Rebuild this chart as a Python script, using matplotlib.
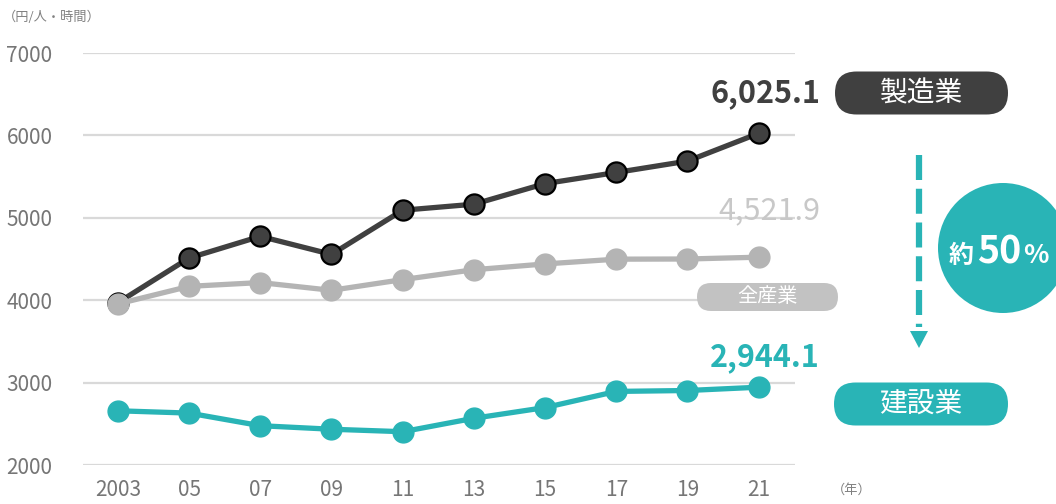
import matplotlib
matplotlib.use("Agg")
import matplotlib.pyplot as plt
from matplotlib.patches import FancyBboxPatch, Circle, Polygon

plt.rcParams['font.family'] = ['Noto Sans CJK JP', 'DejaVu Sans']

years = ["2003", "05", "07", "09", "11", "13", "15", "17", "19", "21"]
manufacturing = [3970, 4512, 4775, 4556, 5092, 5165, 5415, 5550, 5688, 6025.1]
all_industries = [3955, 4168, 4214, 4120, 4250, 4370, 4440, 4498, 4500, 4521.9]
construction = [2658, 2630, 2477, 2434, 2404, 2567, 2697, 2893, 2904, 2944.1]
yticks = [2000, 3000, 4000, 5000, 6000, 7000]

DARK = "#404040"
GRAY = "#b4b4b4"
TEAL = "#29b4b6"
TICK = "#767676"

W, H = 1056, 504
fig = plt.figure(figsize=(W / 100, H / 100), dpi=100)
fig.patch.set_facecolor("white")

ax = fig.add_axes([83 / W, 1 - 465 / H, (795 - 83) / W, (465 - 53) / H])
x = list(range(len(years)))
ax.plot(x, manufacturing, color=DARK, lw=3.8, marker="o", ms=14.5,
        mfc=DARK, mec="black", mew=1.6, zorder=3)
ax.plot(x, all_industries, color=GRAY, lw=3.8, marker="o", ms=15,
        mfc=GRAY, mec=GRAY, zorder=4)
ax.plot(x, construction, color=TEAL, lw=3.8, marker="o", ms=15,
        mfc=TEAL, mec=TEAL, zorder=3)

ax.set_xlim(-0.49, 9.51)
ax.set_ylim(2000, 7000)
ax.set_yticks(yticks)
ax.set_yticklabels([str(v) for v in yticks])
ax.set_xticks(x)
ax.set_xticklabels(years)
ax.tick_params(axis="both", length=0, labelsize=15, colors=TICK)
ax.tick_params(axis="y", pad=22)
ax.tick_params(axis="x", pad=10)
for s in ax.spines.values():
    s.set_visible(False)
ax.yaxis.grid(True, color="#d9d9d9", lw=1.6)
ax.set_axisbelow(True)
ax.set_facecolor("none")

# value labels
ax.annotate(f"{manufacturing[-1]:,.1f}", xy=(x[-1], manufacturing[-1]),
            xytext=(820, H - 93), textcoords="figure pixels",
            ha="right", va="center", fontsize=22, fontweight="bold", color=DARK)
ax.annotate(f"{all_industries[-1]:,.1f}", xy=(x[-1], all_industries[-1]),
            xytext=(820, H - 211), textcoords="figure pixels",
            ha="right", va="center", fontsize=22, color="#c8c8c8")
ax.annotate(f"{construction[-1]:,.1f}", xy=(x[-1], construction[-1]),
            xytext=(820, H - 357), textcoords="figure pixels",
            ha="right", va="center", fontsize=22, fontweight="bold", color=TEAL)

# overlay in pixel coordinates
ov = fig.add_axes([0, 0, 1, 1])
ov.set_xlim(0, W)
ov.set_ylim(H, 0)
ov.axis("off")
ov.set_facecolor("none")

def pill(x0, x1, yc, h, color, label, fs):
    p = FancyBboxPatch((x0 + h / 2, yc), (x1 - x0) - h, 0.0001,
                       boxstyle=f"round,pad={h/2}", fc=color, ec="none")
    ov.add_patch(p)
    ov.text((x0 + x1) / 2, yc, label, ha="center", va="center",
            fontsize=fs, color="white")

pill(835, 1008, 93, 43, DARK, "製造業", 20)
pill(697, 838, 297, 28, "#c2c2c2", "全産業", 14.5)
pill(834, 1008, 404, 43, TEAL, "建設業", 20)

# dashed arrow
ov.plot([919, 919], [155, 327], color=TEAL, lw=4.5,
        dashes=(4.0, 1.4), solid_capstyle="butt", dash_capstyle="butt")
ov.add_patch(Polygon([[910, 331], [928, 331], [919, 348]], closed=True,
                     fc=TEAL, ec="none"))

# circle
ov.add_patch(Circle((1003, 248), 65, fc=TEAL, ec="none"))
ov.text(949, 263, "約", ha="left", va="baseline", fontsize=18,
        fontweight="bold", color="white")
ov.text(977, 263, "50", ha="left", va="baseline", fontsize=27,
        fontweight="bold", color="white")
ov.text(1023, 263, "%", ha="left", va="baseline", fontsize=19,
        fontweight="bold", color="white")

# unit labels
ov.text(3, 17, "（円/人・時間）", ha="left", va="center", fontsize=9.5, color="#808080")
ov.text(832, 490, "（年）", ha="left", va="center", fontsize=9.5, color="#808080")

fig.savefig("out.png", dpi=100, facecolor="white")
